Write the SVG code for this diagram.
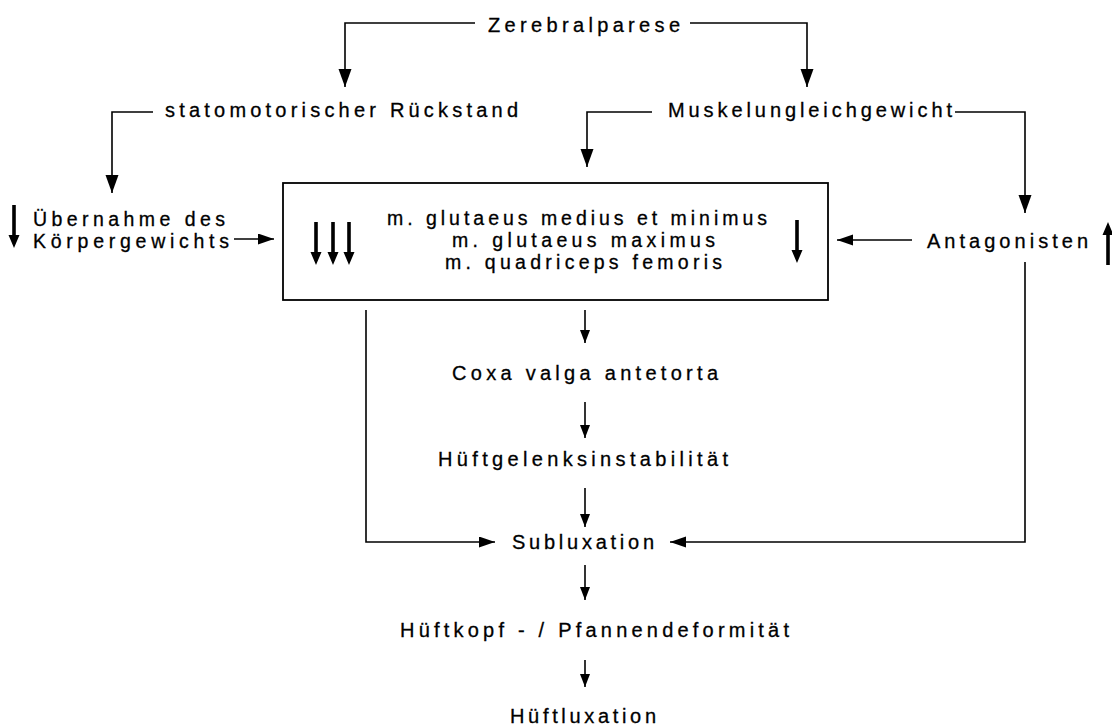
<svg xmlns="http://www.w3.org/2000/svg" xmlns:xlink="http://www.w3.org/1999/xlink" width="1112" height="726" viewBox="0 0 1112 726">
<style>
text{font-family:"Liberation Sans",Arial,Helvetica,sans-serif;font-size:20px;fill:#000;stroke:#000;stroke-width:0.3px;}
.t2{font-size:19.5px;}
.c{fill:none;stroke:#000;stroke-width:1.6;}
.box{fill:#fff;stroke:#000;stroke-width:1.8;}
.big{marker-end:url(#ahBig);}
.med{marker-end:url(#ahMed);}
.sm{marker-end:url(#ahSm);}
</style>
<defs>
<marker id="ahBig" markerUnits="userSpaceOnUse" markerWidth="20" markerHeight="14" refX="18" refY="6.5" orient="auto"><path d="M0,0 L18,6.5 L0,13 z" fill="#000"/></marker>
<marker id="ahMed" markerUnits="userSpaceOnUse" markerWidth="18" markerHeight="12" refX="16" refY="5.5" orient="auto"><path d="M0,0 L16,5.5 L0,11 z" fill="#000"/></marker>
<marker id="ahSm" markerUnits="userSpaceOnUse" markerWidth="15" markerHeight="12" refX="13" refY="5" orient="auto"><path d="M0,0 L13,5 L0,10 z" fill="#000"/></marker>
<path id="thick" d="M-1.8,-43 L1.8,-43 L1.8,-13 L5.5,-13 L0,0 L-5.5,-13 L-1.8,-13 z" fill="#000"/>
</defs>

<g id="connectors">
<polyline class="c big" points="475,23 345,23 345,87"/>
<polyline class="c big" points="690,23 807,23 807,87"/>
<polyline class="c big" points="153,112 112,112 112,193"/>
<polyline class="c big" points="652,112 587,112 587,167"/>
<polyline class="c big" points="955,112 1025,112 1025,213"/>
<line class="c med" x1="234" y1="239" x2="274" y2="239"/>
<line class="c med" x1="912" y1="240" x2="837" y2="240"/>
<line class="c sm" x1="585" y1="310" x2="585" y2="343"/>
<line class="c sm" x1="585" y1="402" x2="585" y2="438"/>
<line class="c sm" x1="585" y1="488" x2="585" y2="527"/>
<polyline class="c med" points="366,310 366,542 495,542"/>
<polyline class="c med" points="1025,262 1025,542 670,542"/>
<line class="c sm" x1="585" y1="565" x2="585" y2="600"/>
<line class="c sm" x1="585" y1="660" x2="585" y2="687"/>
</g>

<g id="zerebralparese"><text x="488" y="32" textLength="192" lengthAdjust="spacing">Zerebralparese</text></g>
<g id="statomotorisch"><text x="165" y="117" textLength="353" lengthAdjust="spacing">statomotorischer Rückstand</text></g>
<g id="muskelungleichgewicht"><text x="668" y="117" textLength="284" lengthAdjust="spacing">Muskelungleichgewicht</text></g>
<g id="uebernahme">
<use xlink:href="#thick" x="14" y="248"/>
<text class="t2" x="33" y="226" textLength="192" lengthAdjust="spacing">Übernahme des</text>
<text class="t2" x="33" y="248" textLength="196" lengthAdjust="spacing">Körpergewichts</text>
</g>
<g id="muskeln">
<rect class="box" x="283" y="183" width="545" height="117"/>
<use xlink:href="#thick" x="316" y="265"/>
<use xlink:href="#thick" x="333" y="265"/>
<use xlink:href="#thick" x="349" y="265"/>
<use xlink:href="#thick" x="797" y="263"/>
<text class="t2" x="387" y="225" textLength="380" lengthAdjust="spacing">m. glutaeus medius et minimus</text>
<text class="t2" x="452" y="247" textLength="263" lengthAdjust="spacing">m. glutaeus maximus</text>
<text class="t2" x="445" y="269" textLength="277" lengthAdjust="spacing">m. quadriceps femoris</text>
</g>
<g id="antagonisten">
<text x="927" y="248" textLength="161" lengthAdjust="spacing">Antagonisten</text>
<use xlink:href="#thick" transform="translate(1108,222) rotate(180)"/>
</g>
<g id="coxa"><text x="452" y="380" textLength="266" lengthAdjust="spacing">Coxa valga antetorta</text></g>
<g id="instabilitaet"><text x="438" y="466" textLength="290" lengthAdjust="spacing">Hüftgelenksinstabilität</text></g>
<g id="subluxation"><text x="512" y="549" textLength="142" lengthAdjust="spacing">Subluxation</text></g>
<g id="deformitaet"><text x="400" y="637" textLength="389" lengthAdjust="spacing">Hüftkopf - / Pfannendeformität</text></g>
<g id="hueftluxation"><text x="510" y="723" textLength="146" lengthAdjust="spacing">Hüftluxation</text></g>
</svg>
